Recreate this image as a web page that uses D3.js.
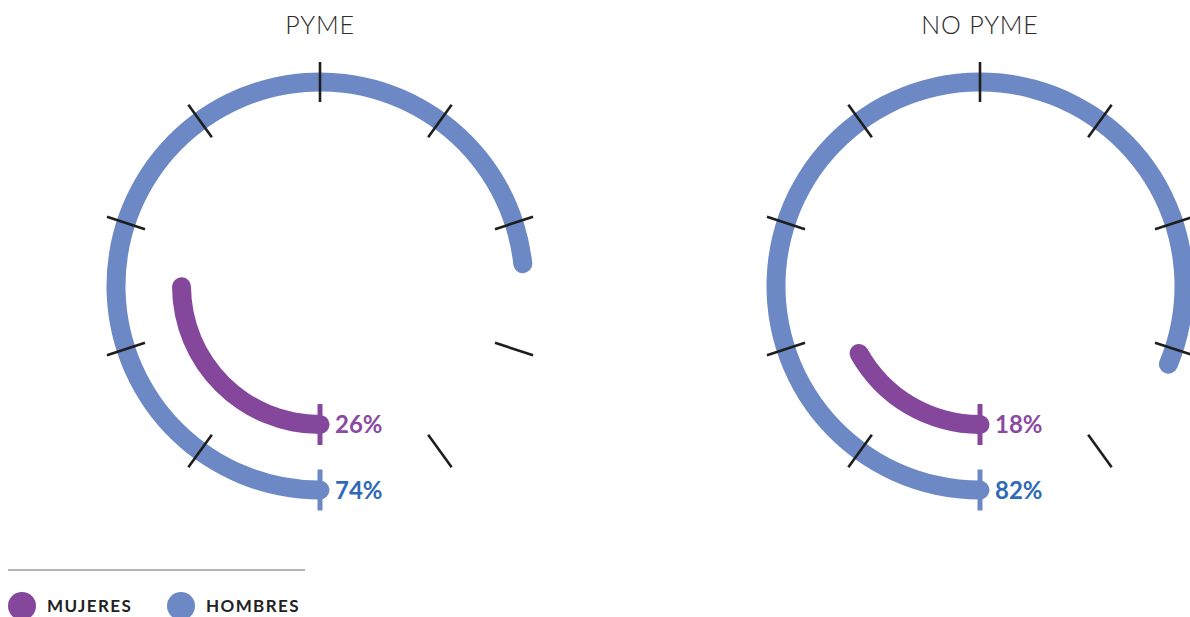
<!DOCTYPE html>
<html>
<head>
<meta charset="utf-8">
<script src="https://cdn.jsdelivr.net/npm/d3@7"></script>
<style>
  html, body { margin: 0; padding: 0; background: #fff; overflow: hidden; }
  svg { display: block; font-family: Lato, "Open Sans", sans-serif; }
</style>
</head>
<body>
<svg id="chart" width="1190" height="617"></svg>
<script>
// ---- data ----
const categories = ["PYME", "NO PYME"];
const mujeres = [26, 18];
const hombres = [74, 82];
const tickValues = [10, 20, 30, 40, 50, 60, 70, 80, 90];
const legendLabels = ["MUJERES", "HOMBRES"];

// ---- styles ----
const colorMujeres = "#84479c";
const colorHombres = "#6d89c5";
const textMujeres = "#8a4aa2";
const textHombres = "#2f6ab6";
const strokeW = 19;
const rInner = 138.5;
const rOuter = 204;
const cy = 286;

const svg = d3.select("#chart");

const xCenter = d3.scalePoint().domain(categories).range([320, 980]);
const angle = d3.scaleLinear().domain([0, 100]).range([Math.PI, 3 * Math.PI]);

const series = [
  { key: "mujeres", values: mujeres, r: rInner, color: colorMujeres, text: textMujeres },
  { key: "hombres", values: hombres, r: rOuter, color: colorHombres, text: textHombres }
];

function pt(a, r) { return [r * Math.sin(a), -r * Math.cos(a)]; }

categories.forEach((cat, i) => {
  const cx = xCenter(cat);
  const g = svg.append("g").attr("transform", `translate(${cx},${cy})`);

  // title
  svg.append("text")
    .attr("x", cx).attr("y", 34)
    .attr("text-anchor", "middle")
    .attr("font-size", 25)
    .attr("font-weight", 300)
    .attr("letter-spacing", 0.8)
    .attr("fill", "#2b2b2b")
    .text(cat);

  // arcs
  series.forEach(s => {
    const cr = strokeW / 2;
    const arc = d3.arc()
      .innerRadius(s.r - strokeW / 2)
      .outerRadius(s.r + strokeW / 2)
      .cornerRadius(cr)
      .startAngle(angle(0) - Math.asin(cr / s.r))
      .endAngle(angle(s.values[i]));
    g.append("path").attr("d", arc()).attr("fill", s.color);
  });

  // black ticks
  tickValues.forEach(t => {
    const a = angle(t);
    const p1 = pt(a, rOuter - 20), p2 = pt(a, rOuter + 20);
    g.append("line")
      .attr("x1", p1[0]).attr("y1", p1[1])
      .attr("x2", p2[0]).attr("y2", p2[1])
      .attr("stroke", "#1e1e1e").attr("stroke-width", 2.6);
  });

  // start markers and labels
  series.forEach(s => {
    const a = angle(0);
    const p1 = pt(a, s.r - 20.5), p2 = pt(a, s.r + 20.5);
    g.append("line")
      .attr("x1", p1[0]).attr("y1", p1[1])
      .attr("x2", p2[0]).attr("y2", p2[1])
      .attr("stroke", s.color).attr("stroke-width", 5);
    const lp = pt(a, s.r);
    g.append("text")
      .attr("x", lp[0] + 15).attr("y", lp[1])
      .attr("dy", "0.36em")
      .attr("font-size", 24)
      .attr("font-weight", 700)
      .attr("fill", s.text)
      .text(s.values[i] + "%");
  });
});

// legend
svg.append("line")
  .attr("x1", 8).attr("x2", 305).attr("y1", 570).attr("y2", 570)
  .attr("stroke", "#9a9a9a").attr("stroke-width", 1.5);

const legendX = d3.scaleOrdinal().domain(legendLabels).range([22, 181]);
const legendColor = d3.scaleOrdinal().domain(legendLabels).range([colorMujeres, colorHombres]);
legendLabels.forEach(l => {
  svg.append("circle")
    .attr("cx", legendX(l)).attr("cy", 606).attr("r", 14)
    .attr("fill", legendColor(l));
  svg.append("text")
    .attr("x", legendX(l) + 25).attr("y", 612)
    .attr("font-size", 17).attr("font-weight", 700)
    .attr("letter-spacing", 1.4)
    .attr("fill", "#222")
    .text(l);
});
</script>
</body>
</html>
